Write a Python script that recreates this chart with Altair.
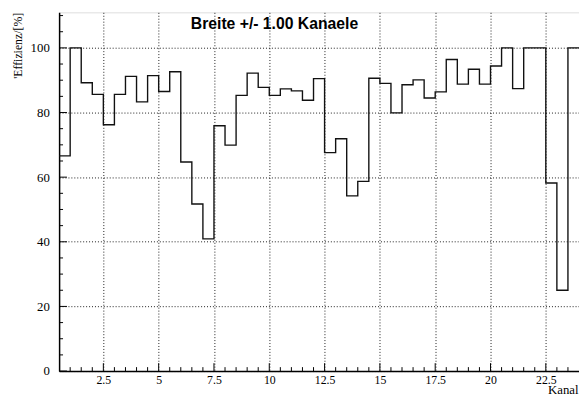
import altair as alt
import pandas as pd

# ---- data ----
bin_start = 0.5
bin_width = 0.5
efficiency = [
    66.6, 100.0, 89.2, 85.6, 76.2, 85.6, 91.2, 83.3, 91.4, 86.5,
    92.6, 64.7, 51.7, 40.9, 75.9, 69.9, 85.3, 92.2, 87.8, 85.3,
    87.3, 86.7, 83.8, 90.5, 67.6, 71.9, 54.2, 58.7, 90.6, 89.0,
    79.9, 88.6, 90.1, 84.5, 86.4, 96.4, 88.8, 93.4, 88.8, 94.4,
    100.0, 87.4, 100.0, 100.0, 58.2, 25.0, 100.0,
]
x_labels = [2.5, 5, 7.5, 10, 12.5, 15, 17.5, 20, 22.5]
y_labels = [0, 20, 40, 60, 80, 100]
x_minor = [1.0, 1.5, 2.0, 3.0, 3.5, 4.0, 4.5, 5.5, 6.0, 6.5, 7.0, 8.0, 8.5, 9.0, 9.5,
           10.5, 11.0, 11.5, 12.0, 13.0, 13.5, 14.0, 14.5, 15.5, 16.0, 16.5, 17.0,
           18.0, 18.5, 19.0, 19.5, 20.5, 21.0, 21.5, 22.0, 23.0, 23.5]
y_minor = [5, 10, 15, 25, 30, 35, 45, 50, 55, 65, 70, 75, 85, 90, 95, 105, 110]

x_domain = [0.5, 24]
y_domain = [0, 111]
W, H = 529, 365

n = len(efficiency)
edges = [bin_start + bin_width * i for i in range(n + 1)]
hist = pd.DataFrame({"kanal": edges, "eff": efficiency + [efficiency[-1]]})

xs = alt.Scale(domain=x_domain, nice=False, zero=False)
ys = alt.Scale(domain=y_domain, nice=False, zero=False)

serif = "Liberation Serif"

line = alt.Chart(hist).mark_line(
    interpolate="step-after", color="#111111", strokeWidth=1.4
).encode(
    x=alt.X("kanal:Q", scale=xs, axis=alt.Axis(
        values=x_labels, labelExpr="'' + datum.value", title="Kanal",
        grid=True, gridDash=[1, 2], gridColor="#000000", gridOpacity=0.9,
        ticks=False, domainColor="#000000", domainWidth=1.5,
        labelFont=serif, labelFontSize=12, labelColor="#000000", labelPadding=4,
        titleFont=serif, titleFontSize=13, titleFontWeight="normal", titleColor="#000000",
        titleAlign="right", titleBaseline="alphabetic", titleX=528, titleY=23,
    )),
    y=alt.Y("eff:Q", scale=ys, axis=alt.Axis(
        values=y_labels, labelExpr="'' + datum.value", title="'Effizienz/[%]",
        grid=True, gridDash=[1, 2], gridColor="#000000", gridOpacity=0.9,
        ticks=False, domainColor="#000000", domainWidth=1.5,
        labelFont=serif, labelFontSize=13, labelColor="#000000", labelPadding=10,
        titleFont=serif, titleFontSize=12, titleFontWeight="normal", titleColor="#000000",
        titleAngle=270, titleAlign="right", titleBaseline="alphabetic",
        titleX=-38, titleY=0,
    )),
)

xt_minor = alt.Chart(pd.DataFrame({"kanal": x_minor})).mark_rule(color="#000000", strokeWidth=1).encode(
    x=alt.X("kanal:Q", scale=xs), y=alt.value(H), y2=alt.value(H - 4)
)
xt_major = alt.Chart(pd.DataFrame({"kanal": x_labels})).mark_rule(color="#000000", strokeWidth=1).encode(
    x=alt.X("kanal:Q", scale=xs), y=alt.value(H), y2=alt.value(H - 8)
)
yt_minor = alt.Chart(pd.DataFrame({"eff": y_minor})).mark_rule(color="#000000", strokeWidth=1).encode(
    y=alt.Y("eff:Q", scale=ys), x=alt.value(0), x2=alt.value(4)
)
yt_major = alt.Chart(pd.DataFrame({"eff": y_labels})).mark_rule(color="#000000", strokeWidth=1).encode(
    y=alt.Y("eff:Q", scale=ys), x=alt.value(0), x2=alt.value(8)
)

chart = alt.layer(line, xt_minor, xt_major, yt_minor, yt_major).properties(
    width=W, height=H,
    autosize="none",
    padding={"left": 52, "top": 1, "right": 0, "bottom": 24},
    title=alt.TitleParams(
        "Breite +/- 1.00 Kanaele", font="Liberation Sans", fontSize=16,
        fontWeight="bold", color="#000000", anchor="start", frame="group",
        baseline="alphabetic", offset=-33, dx=134,
    ),
).configure_view(stroke="#000000", strokeWidth=1).configure(background="white")

chart.save("out.html", embed_options={"renderer": "svg", "actions": False})
